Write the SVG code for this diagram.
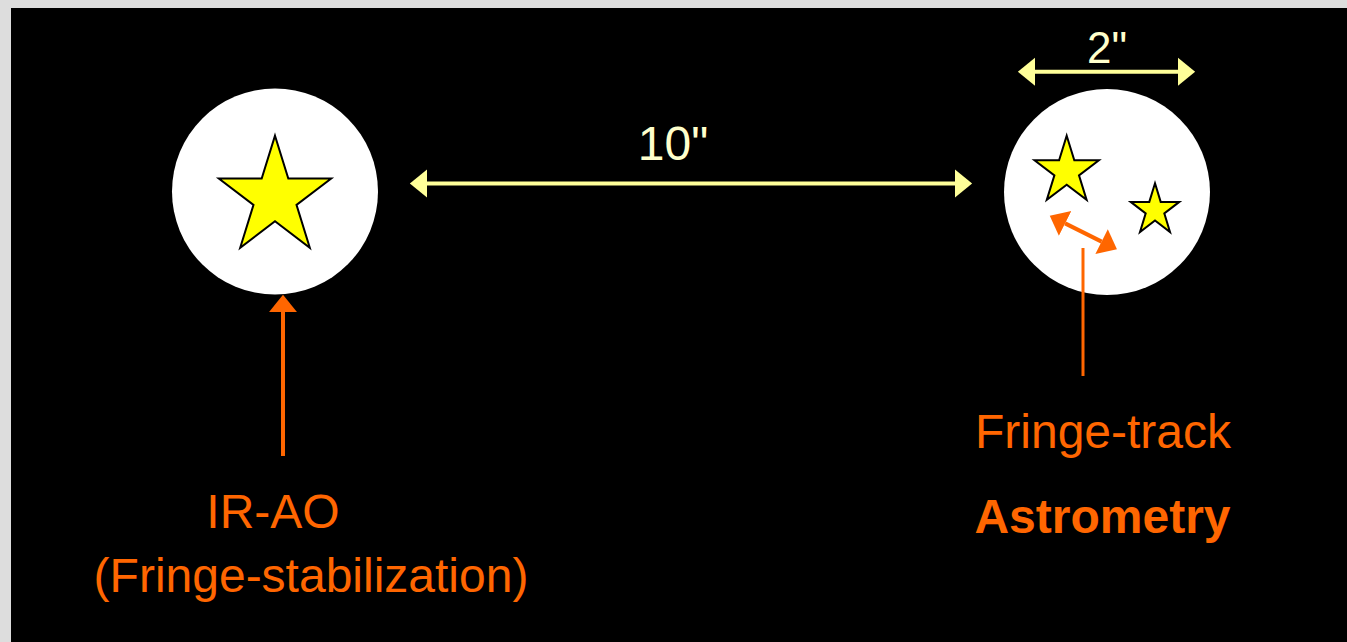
<svg xmlns="http://www.w3.org/2000/svg" width="1347" height="642" viewBox="0 0 1347 642">
<style>
.lbl{font-family:"Liberation Sans",Arial,sans-serif;font-size:48px;text-anchor:middle}
.or{fill:#ff6600}
.cream{fill:#ffffcc}
.star{fill:#ffff00;stroke:#000;stroke-width:2;stroke-linejoin:miter}
.yl{stroke:#ffff99;stroke-width:4;fill:none}
.ol{stroke:#ff6600;stroke-width:4;fill:none}
</style>
<defs>
<marker id="ya" markerUnits="userSpaceOnUse" markerWidth="20" markerHeight="30" viewBox="0 -14 18 28" refX="0" refY="0" orient="auto-start-reverse"><path d="M0,-13 L16,0 L0,13 z" fill="#ffff99"/></marker>
<marker id="oa" markerUnits="userSpaceOnUse" markerWidth="20" markerHeight="30" viewBox="0 -14 18 28" refX="0" refY="0" orient="auto-start-reverse"><path d="M0,-13 L16,0 L0,13 z" fill="#ff6600"/></marker>
</defs>
<rect x="0" y="0" width="1347" height="642" fill="#dddddd"/>
<rect x="11" y="8" width="1336" height="634" fill="#000"/>
<g id="ref-field">
<circle cx="275" cy="191.5" r="103" fill="#fff"/>
<polygon class="star" points="275,135.7 288.3,178.5 331.2,178.5 296.5,204.9 309.8,247.7 275,221.2 240.2,247.7 253.5,204.9 218.8,178.5 261.7,178.5"/>
</g>
<g id="target-field">
<circle cx="1107" cy="192" r="103" fill="#fff"/>
<polygon class="star" points="1066.7,135.7 1074.3,160.2 1098.9,160.2 1079,175.4 1086.6,199.9 1066.7,184.8 1046.8,199.9 1054.4,175.4 1034.5,160.2 1059.1,160.2"/>
<polygon class="star" points="1155,183.3 1160.7,201.9 1179.3,201.9 1164.3,213.4 1170,232 1155,220.5 1140,232 1145.7,213.4 1130.7,201.9 1149.3,201.9"/>
</g>
<g id="connectors">
<line class="yl" x1="427" y1="183.5" x2="955" y2="183.5" marker-start="url(#ya)" marker-end="url(#ya)"/>
<line class="yl" x1="1035" y1="71.7" x2="1178" y2="71.7" marker-start="url(#ya)" marker-end="url(#ya)"/>
<line class="ol" x1="283" y1="456" x2="283" y2="312" marker-end="url(#oa)"/>
<line class="ol" x1="1065.1" y1="223.4" x2="1101.6" y2="241.6" marker-start="url(#oa)" marker-end="url(#oa)"/>
<line class="ol" style="stroke-width:3" x1="1083" y1="248" x2="1083" y2="376"/>
</g>
<g id="labels">
<text class="lbl cream" x="673" y="160">10"</text>
<text class="lbl cream" x="1107" y="63" style="font-size:44px">2"</text>
<text class="lbl or" x="273" y="528">IR-AO</text>
<text class="lbl or" x="311" y="592">(Fringe-stabilization)</text>
<text class="lbl or" x="1103" y="448">Fringe-track</text>
<text class="lbl or" x="1102.5" y="533" style="font-weight:bold">Astrometry</text>
</g>
</svg>
